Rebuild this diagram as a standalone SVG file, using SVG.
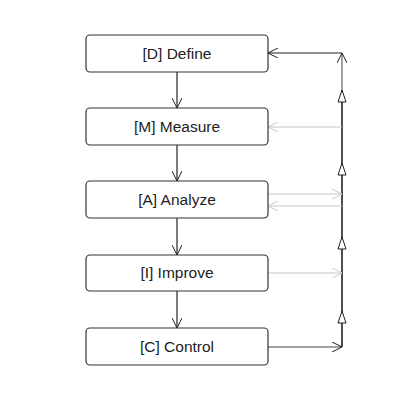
<svg xmlns="http://www.w3.org/2000/svg" width="405" height="407" viewBox="0 0 405 407">
<defs>
<marker id="vb" viewBox="0 0 10 10" refX="10" refY="5" markerWidth="10" markerHeight="10" markerUnits="userSpaceOnUse" orient="auto">
<path d="M0,0 L10,5 L0,10" fill="none" stroke="#222" stroke-width="1"/>
</marker>
<marker id="vg" viewBox="0 0 10 10" refX="10" refY="5" markerWidth="10" markerHeight="10" markerUnits="userSpaceOnUse" orient="auto">
<path d="M0,0 L10,5 L0,10" fill="none" stroke="#c8c8c8" stroke-width="1"/>
</marker>
</defs>
<style>
.box{fill:#fff;stroke:#333;stroke-width:1.2}
.lbl{font-family:"Liberation Sans",Arial,sans-serif;font-size:15.5px;fill:#222;text-anchor:middle}
.dark{stroke:#222;stroke-width:1.2;fill:none}
.gray{stroke:#c8c8c8;stroke-width:1.2;fill:none}
.tri{fill:#fff;stroke:#222;stroke-width:1}
</style>
<rect width="405" height="407" fill="#fff"/>
<g id="connectors">
<line class="dark" x1="177" y1="72" x2="177" y2="108" marker-end="url(#vb)"/>
<line class="dark" x1="177" y1="145" x2="177" y2="181" marker-end="url(#vb)"/>
<line class="dark" x1="177" y1="218" x2="177" y2="255" marker-end="url(#vb)"/>
<line class="dark" x1="177" y1="291" x2="177" y2="328" marker-end="url(#vb)"/>
<line x1="342" y1="347" x2="342" y2="90" stroke="#222" stroke-width="1.6"/>
<line x1="342" y1="90" x2="342" y2="53" stroke="#555" stroke-width="1.1" marker-end="url(#vb)"/>
<line class="dark" x1="342" y1="53" x2="268" y2="53" marker-end="url(#vb)"/>
<line class="gray" x1="342" y1="127" x2="268" y2="127" marker-end="url(#vg)"/>
<line class="gray" x1="268" y1="194" x2="342" y2="194" marker-end="url(#vg)"/>
<line class="gray" x1="342" y1="206" x2="268" y2="206" marker-end="url(#vg)"/>
<line class="gray" x1="268" y1="273" x2="342" y2="273" marker-end="url(#vg)"/>
<line x1="268" y1="347" x2="342" y2="347" stroke="#444" stroke-width="1.2" marker-end="url(#vb)"/>
<path class="tri" d="M342,90 L346,102 L338,102 Z"/>
<path class="tri" d="M342,163 L346,175 L338,175 Z"/>
<path class="tri" d="M342,237 L346,249 L338,249 Z"/>
<path class="tri" d="M342,311 L346,323 L338,323 Z"/>
</g>
<g id="define"><rect class="box" x="86" y="35" width="182" height="37" rx="4"/><text class="lbl" x="177" y="59">[D] Define</text></g>
<g id="measure"><rect class="box" x="86" y="108" width="182" height="37" rx="4"/><text class="lbl" x="177" y="132">[M] Measure</text></g>
<g id="analyze"><rect class="box" x="86" y="181" width="182" height="37" rx="4"/><text class="lbl" x="177" y="205">[A] Analyze</text></g>
<g id="improve"><rect class="box" x="86" y="255" width="182" height="36" rx="4"/><text class="lbl" x="177" y="278">[I] Improve</text></g>
<g id="control"><rect class="box" x="86" y="328" width="182" height="37" rx="4"/><text class="lbl" x="177" y="352">[C] Control</text></g>
</svg>
